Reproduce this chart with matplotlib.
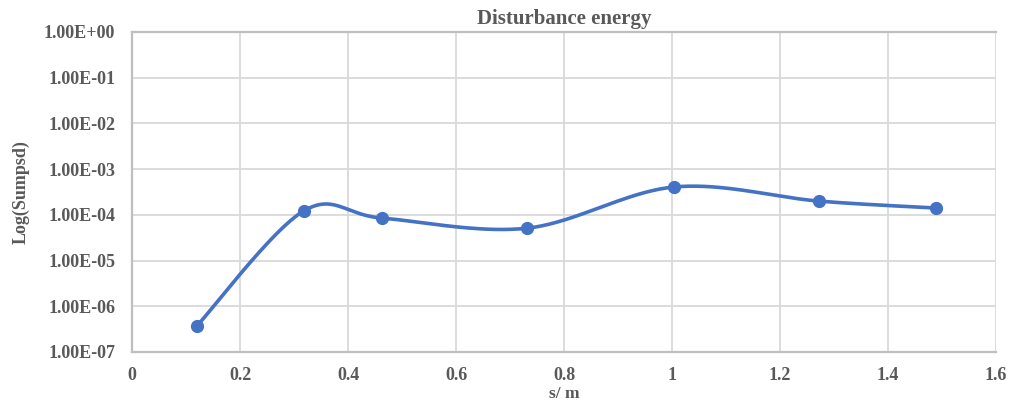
import numpy as np
import matplotlib.pyplot as plt
from matplotlib.ticker import FixedLocator, NullLocator

# data
distance = [0.12, 0.318, 0.463, 0.731, 1.004, 1.272, 1.489]
sumpsd = [3.7e-7, 1.22e-4, 8.5e-5, 5.1e-5, 4.07e-4, 2.0e-4, 1.41e-4]
y_ticks = [1e-7, 1e-6, 1e-5, 1e-4, 1e-3, 1e-2, 1e-1, 1e0]
y_labels = ['1.00E-07', '1.00E-06', '1.00E-05', '1.00E-04',
            '1.00E-03', '1.00E-02', '1.00E-01', '1.00E+00']
x_ticks = [0, 0.2, 0.4, 0.6, 0.8, 1, 1.2, 1.4, 1.6]
x_labels = ['0', '0.2', '0.4', '0.6', '0.8', '1', '1.2', '1.4', '1.6']

text_col = '#595959'
line_col = '#4472C4'
plt.rcParams['font.family'] = ['Liberation Serif', 'DejaVu Serif']


def smooth(xs, ys, n=40):
    # Excel-like smoothed line: Catmull-Rom bezier in (x, log y)
    p = np.column_stack([xs, np.log10(ys)])
    p = np.vstack([p[0], p, p[-1]])
    out = []
    for i in range(1, len(p) - 2):
        p0, p1, p2, p3 = p[i - 1], p[i], p[i + 1], p[i + 2]
        c1 = p1 + (p2 - p0) / 6
        c2 = p2 - (p3 - p1) / 6
        t = np.linspace(0, 1, n)[:, None]
        seg = ((1 - t) ** 3) * p1 + 3 * ((1 - t) ** 2) * t * c1 + 3 * (1 - t) * t ** 2 * c2 + t ** 3 * p2
        out.append(seg)
    out = np.vstack(out)
    return out[:, 0], 10 ** out[:, 1]


fig = plt.figure(figsize=(10.1, 4.05), dpi=100)
ax = fig.add_axes([132 / 1010, 1 - 352 / 405, (996 - 132) / 1010, 320 / 405])

sx, sy = smooth(distance, sumpsd)
ax.plot(sx, sy, color=line_col, lw=2.6, solid_capstyle='round', zorder=3)
ax.plot(distance, sumpsd, 'o', color=line_col, ms=8.5, zorder=4)

ax.set_yscale('log')
ax.set_ylim(1e-7, 1e0)
ax.set_xlim(0, 1.6)
ax.yaxis.set_major_locator(FixedLocator(y_ticks))
ax.yaxis.set_minor_locator(NullLocator())
ax.set_yticks(y_ticks)
ax.set_yticklabels(y_labels)
ax.set_xticks(x_ticks)
ax.set_xticklabels(x_labels)

ax.grid(True, color='#d9d9d9', lw=1.3, zorder=0)
ax.set_axisbelow(True)
for s in ['left', 'bottom', 'top']:
    ax.spines[s].set_color('#bfbfbf')
    ax.spines[s].set_linewidth(1.6)
ax.spines['right'].set_visible(False)
ax.tick_params(axis='y', length=0, pad=12, labelsize=13, labelcolor=text_col)
ax.tick_params(axis='x', length=0, pad=11, labelsize=13, labelcolor=text_col)
for lab in ax.get_xticklabels() + ax.get_yticklabels():
    lab.set_fontweight('bold')

ax.set_title('Disturbance energy', fontsize=15, fontweight='bold', color=text_col, pad=6)
ax.set_xlabel('s/ m', fontsize=12.5, fontweight='bold', color=text_col, labelpad=1)
ax.set_ylabel('Log(Sumpsd)', fontsize=13, fontweight='bold', color=text_col, labelpad=10)

fig.savefig('out.png', dpi=100)
